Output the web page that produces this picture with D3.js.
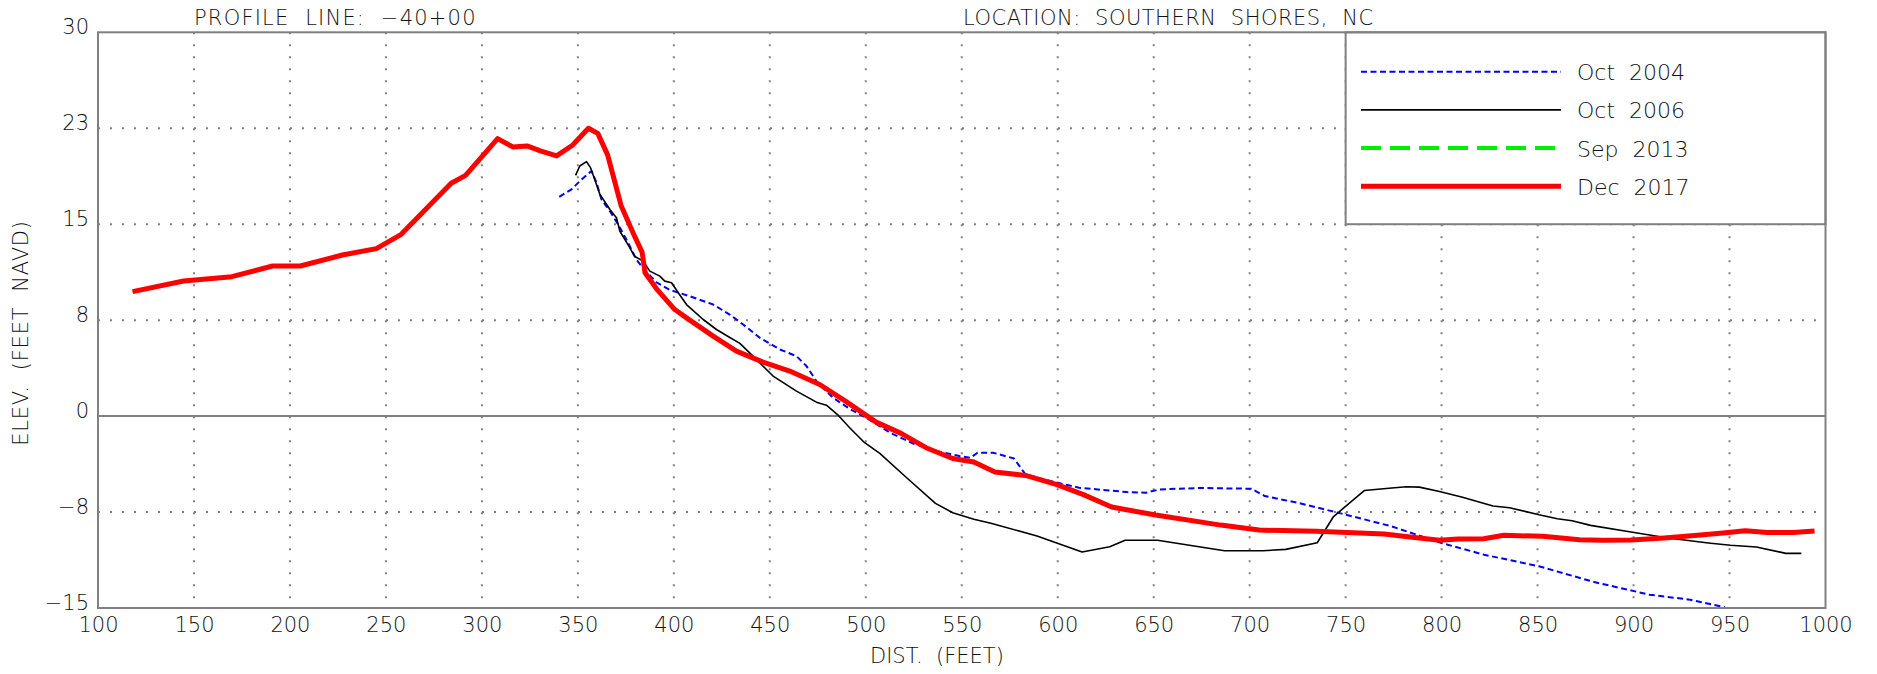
<!DOCTYPE html>
<html>
<head>
<meta charset="utf-8">
<script src="https://cdn.jsdelivr.net/npm/d3@7"></script>
<style>
  body { margin: 0; background: #fff; }
  text { font-family: "DejaVu Sans", sans-serif; font-weight: 200; fill: #111; white-space: pre; }
</style>
</head>
<body>
<div id="chart"></div>
<script>
// profile surveys, [distance (ft), elevation (ft NAVD)]
var oct2004 = [[340.3,17.14],[346.7,17.72],[351,18.37],[357.1,19.16],[359.7,18.24],[362.3,16.93],[366.7,16.02],[371,14.97],
  [375.3,13.8],[378,13.0],[380.5,12.23],[384.5,11.46],[391,10.45],[397.9,9.86],[408.3,9.37],[420.5,8.72],[429.1,7.94],
  [436.1,7.16],[444.8,6.12],[455.2,5.21],[463.9,4.69],[469.1,3.91],[474.3,2.73],[483,1.43],[491.6,0.57],[500.8,-0.18],
  [512.7,-1.3],[524.7,-2.14],[536.7,-2.73],[548.8,-3.12],[554.5,-3.26],[558.2,-2.86],[566.3,-2.86],[577.2,-3.31],
  [583.2,-4.56],[596.2,-5.08],[611.1,-5.6],[636.1,-5.94],[646,-5.99],[653,-5.73],[675,-5.62],[700.9,-5.68],[707.9,-6.25],
  [724.8,-6.77],[744.7,-7.5],[774,-8.62],[800,-9.92],[822,-10.83],[850.7,-11.74],[879.5,-12.97],[908.3,-13.96],
  [929.4,-14.35],[947.6,-14.95]];

var oct2006 = [[348.8,18.82],[351,19.55],[354.5,19.89],[356.6,19.42],[358.8,18.5],[361.5,17.33],[366.7,16.15],[370.1,15.5],
  [371.9,14.45],[376.5,13.3],[379.5,12.5],[384,12.11],[387.5,11.33],[392.7,10.94],[395.3,10.55],[398.8,10.42],[402.3,9.64],
  [406.6,8.72],[415.3,7.55],[422.2,6.77],[427.4,6.3],[434.4,5.68],[443,4.43],[451.7,3.13],[463.9,1.95],[474.3,1.09],
  [479.5,0.85],[485.4,0.1],[491.6,-0.91],[499.4,-2.08],[507.3,-2.92],[521.3,-4.82],[536.3,-6.82],[545.3,-7.55],
  [556.3,-8.07],[565.2,-8.38],[589.2,-9.37],[612.7,-10.62],[627.1,-10.21],[635.1,-9.71],[652,-9.71],[686.9,-10.52],
  [706.9,-10.52],[718.8,-10.42],[735.2,-9.9],[743.7,-7.85],[759.7,-5.82],[774,-5.62],[781.7,-5.52],[788.4,-5.55],
  [798.9,-5.89],[810.4,-6.33],[826.8,-7.03],[835.4,-7.16],[850.7,-7.71],[860.3,-8.02],[868,-8.18],[877.6,-8.54],
  [898.7,-9.06],[917.9,-9.53],[939,-9.92],[950.5,-10.1],[964,-10.23],[979.3,-10.73],[987.4,-10.73]];

var sep2013 = []; // in legend only, no line shows on the plot

var dec2017 = [[118,9.73],[144.6,10.56],[169.7,10.9],[191,11.73],[205.4,11.73],[227.3,12.59],[245,13.09],[258,14.21],
  [284,18.2],[291.5,18.82],[308.2,21.69],[316.1,21.04],[323.5,21.12],[330.5,20.73],[338.9,20.34],[347.2,21.17],
  [355.5,22.5],[360.4,22.1],[365.5,20.42],[372.5,16.47],[378.8,14.32],[383.5,12.8],[385,11.2],[391,9.95],[400.5,8.33],
  [406.6,7.68],[420.5,6.25],[432.6,5.08],[446.5,4.22],[460.4,3.52],[476,2.47],[489.4,1.17],[505.4,-0.47],[518.4,-1.35],
  [531.4,-2.47],[545.3,-3.31],[556.3,-3.59],[567.3,-4.37],[583.2,-4.64],[599.2,-5.34],[613.1,-6.12],[628.1,-7.11],
  [651,-7.73],[684.9,-8.52],[704.9,-8.91],[734.8,-9.01],[770.1,-9.22],[783.6,-9.45],[798.9,-9.71],[808.5,-9.61],
  [821.9,-9.58],[832.5,-9.32],[852.7,-9.4],[871.8,-9.66],[883.4,-9.71],[898.7,-9.69],[916,-9.53],[933.3,-9.32],
  [946.7,-9.14],[958.2,-8.96],[969.7,-9.09],[983.2,-9.09],[994.3,-8.98]];

var seriesNames = ["Oct  2004", "Oct  2006", "Sep  2013", "Dec  2017"];
var xTicks = d3.range(100, 1001, 50);
var yTicks = [30, 22.5, 15, 7.5, 0, -7.5, -15];
var yTickLabels = ["30", "23", "15", "8", "0", "\u22128", "\u221215"];

var width = 1877, height = 674;
var margin = {top: 32.3, right: 51.5, bottom: 66, left: 98};

var x = d3.scaleLinear().domain([100, 1000]).range([margin.left, width - margin.right]);
var y = d3.scaleLinear().domain([-15, 30]).range([height - margin.bottom, margin.top]);

var svg = d3.select("#chart").append("svg")
  .attr("width", width)
  .attr("height", height);

// dotted grid
svg.append("g").selectAll("line")
  .data(xTicks.filter(function(d) { return d > 100 && d < 1000; }))
  .join("line")
    .attr("x1", function(d) { return x(d); })
    .attr("x2", function(d) { return x(d); })
    .attr("y1", y(30))
    .attr("y2", y(-15))
    .attr("stroke", "#808080")
    .attr("stroke-width", 2)
    .attr("stroke-dasharray", "2,10");

svg.append("g").selectAll("line")
  .data([22.5, 15, 7.5, -7.5])
  .join("line")
    .attr("x1", x(100))
    .attr("x2", x(1000))
    .attr("y1", function(d) { return y(d); })
    .attr("y2", function(d) { return y(d); })
    .attr("stroke", "#808080")
    .attr("stroke-width", 2)
    .attr("stroke-dasharray", "2,10");

// zero line
svg.append("line")
  .attr("x1", x(100)).attr("x2", x(1000))
  .attr("y1", y(0)).attr("y2", y(0))
  .attr("stroke", "#808080")
  .attr("stroke-width", 2);

// axes (labels only)
var xAxis = svg.append("g")
  .attr("transform", "translate(0," + y(-15) + ")")
  .call(d3.axisBottom(x).tickValues(xTicks).tickFormat(d3.format("d")).tickSize(0));
xAxis.select(".domain").remove();
xAxis.selectAll("text")
  .attr("y", 24).attr("dy", 0)
  .attr("font-size", 21)
  .attr("font-family", null);

var yAxis = svg.append("g")
  .attr("transform", "translate(" + x(100) + ",0)")
  .call(d3.axisLeft(y).tickValues(yTicks).tickFormat(function(d, i) { return yTickLabels[i]; }).tickSize(0).tickPadding(9));
yAxis.select(".domain").remove();
yAxis.selectAll("text")
  .attr("dy", 0).attr("y", 1.5)
  .attr("font-size", 21)
  .attr("font-family", null);

// lines
var line = d3.line()
  .x(function(d) { return x(d[0]); })
  .y(function(d) { return y(d[1]); });

var styles = [
  {color: "#0000ff", width: 2, dash: "6,3.5"},
  {color: "#000000", width: 1.6, dash: null},
  {color: "#00ee00", width: 4, dash: "20,9"},
  {color: "#ff0000", width: 5, dash: null}
];
var allSeries = [oct2004, oct2006, sep2013, dec2017];

allSeries.forEach(function(s, i) {
  if (s.length === 0) return;
  svg.append("path")
    .datum(s)
    .attr("fill", "none")
    .attr("stroke", styles[i].color)
    .attr("stroke-width", styles[i].width)
    .attr("stroke-dasharray", styles[i].dash)
    .attr("stroke-linejoin", "round")
    .attr("d", line);
});

// legend box
var legend = svg.append("g");
legend.append("rect")
  .attr("x", x(750))
  .attr("y", y(30))
  .attr("width", x(1000) - x(750))
  .attr("height", y(15) - y(30))
  .attr("fill", "#fff")
  .attr("stroke", "#808080")
  .attr("stroke-width", 2);

seriesNames.forEach(function(name, i) {
  var ly = 71.7 + i * 38.2;
  legend.append("line")
    .attr("x1", 1361).attr("x2", 1561)
    .attr("y1", ly).attr("y2", ly)
    .attr("stroke", styles[i].color)
    .attr("stroke-width", styles[i].width)
    .attr("stroke-dasharray", styles[i].dash);
  legend.append("text")
    .attr("x", 1577)
    .attr("y", ly + 8.5)
    .attr("font-size", 22)
    .text(name);
});

// border
svg.append("rect")
  .attr("x", x(100)).attr("y", y(30))
  .attr("width", x(1000) - x(100))
  .attr("height", y(-15) - y(30))
  .attr("fill", "none")
  .attr("stroke", "#808080")
  .attr("stroke-width", 2);

// titles
svg.append("text")
  .attr("x", 194).attr("y", 25)
  .attr("font-size", 21)
  .attr("letter-spacing", 1.2)
  .text("PROFILE  LINE:  \u221240+00");

svg.append("text")
  .attr("x", 963).attr("y", 25)
  .attr("font-size", 21)
  .attr("letter-spacing", 0.5)
  .text("LOCATION:  SOUTHERN  SHORES,  NC");

svg.append("text")
  .attr("x", 870).attr("y", 663)
  .attr("font-size", 21)
  .text("DIST.  (FEET)");

svg.append("text")
  .attr("transform", "translate(28,333) rotate(-90)")
  .attr("text-anchor", "middle")
  .attr("font-size", 21)
  .attr("letter-spacing", 0.8)
  .text("ELEV.  (FEET  NAVD)");
</script>
</body>
</html>
